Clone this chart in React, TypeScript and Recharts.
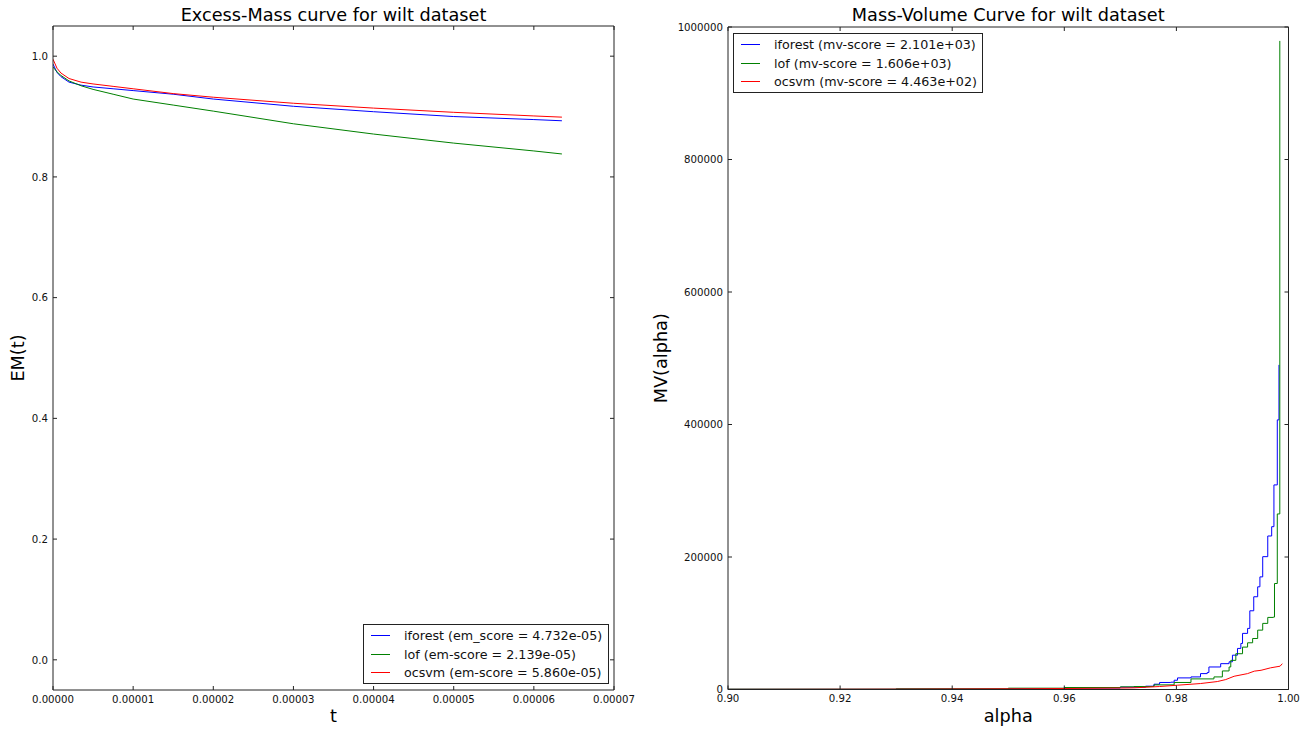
import { LineChart, Line, XAxis, YAxis, Legend, Label } from "recharts";

// Excess-Mass curves (left panel)
const emT = [0, 0.05e-5, 0.1e-5, 0.2e-5, 0.35e-5, 0.5e-5, 0.75e-5, 1e-5, 1.5e-5, 2e-5, 3e-5, 4e-5, 5e-5, 6e-5, 6.35e-5];
const emIforest = [0.987, 0.973, 0.966, 0.957, 0.952, 0.949, 0.946, 0.943, 0.937, 0.929, 0.917, 0.908, 0.9, 0.895, 0.893];
const emLof = [0.982, 0.974, 0.968, 0.959, 0.951, 0.945, 0.937, 0.929, 0.919, 0.909, 0.888, 0.871, 0.856, 0.843, 0.838];
const emOcsvm = [0.995, 0.98, 0.972, 0.963, 0.957, 0.954, 0.95, 0.946, 0.938, 0.932, 0.922, 0.914, 0.907, 0.901, 0.899];
const emTicksX = [0, 0.00001, 0.00002, 0.00003, 0.00004, 0.00005, 0.00006, 0.00007];
const emTicksY = [0, 0.2, 0.4, 0.6, 0.8, 1.0];
const emNames = ["iforest (em_score = 4.732e-05)", "lof (em-score = 2.139e-05)", "ocsvm (em-score = 5.860e-05)"];

// Mass-Volume curves (right panel)
const mvIforestAlpha = [0.9, 0.93, 0.95, 0.96, 0.97, 0.9745, 0.976, 0.977, 0.979, 0.9796, 0.9802, 0.9826, 0.9843, 0.9855, 0.9858, 0.9879, 0.9894, 0.99, 0.9909, 0.9915, 0.9918, 0.9927, 0.9931, 0.9938, 0.9945, 0.9949, 0.9954, 0.9963, 0.997, 0.9974, 0.998, 0.9983];
const mvIforest = [300, 800, 1500, 2300, 3500, 5000, 8000, 10600, 11000, 14000, 17500, 19000, 24000, 25700, 34000, 39000, 41800, 51800, 62000, 69500, 84700, 92200, 118800, 140000, 155000, 170000, 200500, 231700, 245800, 308800, 407000, 490000];
const mvLofAlpha = [0.9, 0.93, 0.95, 0.96, 0.97, 0.9724, 0.976, 0.9796, 0.9826, 0.9867, 0.9882, 0.9894, 0.9897, 0.9906, 0.9918, 0.9927, 0.9936, 0.9945, 0.9954, 0.9963, 0.9973, 0.9975, 0.998, 0.99845];
const mvLof = [500, 1000, 2000, 3000, 4000, 4500, 7000, 10600, 16000, 19000, 28000, 34000, 44000, 54000, 64000, 70500, 77000, 89600, 99800, 108800, 109300, 160000, 265000, 979000];
const mvOcsvmAlpha = [0.9, 0.93, 0.95, 0.96, 0.97, 0.9724, 0.977, 0.9802, 0.9843, 0.9873, 0.9888, 0.9903, 0.9927, 0.9939, 0.9951, 0.9968, 0.9985, 0.9989];
const mvOcsvm = [200, 500, 1000, 1500, 2200, 2500, 4500, 6500, 9000, 12000, 15000, 20000, 24000, 27700, 29000, 32700, 35200, 39000];
const mvTicksX = [0.9, 0.92, 0.94, 0.96, 0.98, 1.0];
const mvTicksY = [0, 200000, 400000, 600000, 800000, 1000000];
const mvNames = ["iforest (mv-score = 2.101e+03)", "lof (mv-score = 1.606e+03)", "ocsvm (mv-score = 4.463e+02)"];

const FONT = "DejaVu Sans, sans-serif";
const FRAME = "#222";
// matplotlib classic 'b', 'g', 'r'
const COLORS = ["#0000ff", "#008000", "#ff0000"];

const colorOf: Record<string, string> = {};
[emNames, mvNames].forEach((names) => names.forEach((n, i) => (colorOf[n] = COLORS[i])));

const pairs = (xs: number[], ys: number[]) => xs.map((x, i) => ({ x, y: ys[i] }));

const emData = [pairs(emT, emIforest), pairs(emT, emLof), pairs(emT, emOcsvm)];
const mvData = [pairs(mvIforestAlpha, mvIforest), pairs(mvLofAlpha, mvLof), pairs(mvOcsvmAlpha, mvOcsvm)];

// matplotlib classic style ticks: pointing inward, labels only bottom/left
const bottomTick = (fmt: (v: number) => string) => (props: any) => {
  const { x, y, payload } = props;
  return (
    <g>
      <line x1={x} x2={x} y1={y} y2={y - 4} stroke={FRAME} />
      <text x={x} y={y + 12.5} textAnchor="middle" fontSize={10.2} fontFamily={FONT} fill="#111">
        {fmt(payload.value)}
      </text>
    </g>
  );
};
const leftTick = (fmt: (v: number) => string) => (props: any) => {
  const { x, y, payload } = props;
  return (
    <g>
      <line x1={x} x2={x + 4} y1={y} y2={y} stroke={FRAME} />
      <text x={x - 5} y={y + 3.7} textAnchor="end" fontSize={10.2} fontFamily={FONT} fill="#111">
        {fmt(payload.value)}
      </text>
    </g>
  );
};
// top axis box is 1px tall, right axis box 1px wide: props point at the frame edge
const topTick = (props: any) => (
  <line x1={props.x} x2={props.x} y1={props.y} y2={props.y + 4} stroke={FRAME} />
);
const rightTick = (props: any) => (
  <line x1={props.x} x2={props.x - 4} y1={props.y} y2={props.y} stroke={FRAME} />
);

const legendBox = (props: any) => {
  const items = (props.payload || []).filter((it: any) => it.type !== "none" && it.value);
  return (
    <div
      style={{
        border: `1px solid ${FRAME}`,
        background: "#fff",
        padding: "1px 0",
        boxSizing: "border-box",
        width: "100%",
        fontFamily: FONT,
        fontSize: 12.7,
        color: "#111",
      }}
    >
      {items.map((it: any) => (
        <div key={it.value} style={{ display: "flex", alignItems: "center", height: 18.7, whiteSpace: "nowrap" }}>
          <svg width={19} height={3} style={{ marginLeft: 7, marginRight: 14 }}>
            <line x1={0} x2={19} y1={1.5} y2={1.5} stroke={colorOf[it.value] || it.color} strokeWidth={1} />
          </svg>
          <span>{it.value}</span>
        </div>
      ))}
    </div>
  );
};

const labelStyle = { fontSize: 17.7, fontFamily: FONT, fill: "#000" };

function EmChart() {
  return (
    <LineChart width={656} height={732} margin={{ top: 25, right: 41, bottom: 0, left: 0 }}>
      <XAxis
        dataKey="x"
        type="number"
        domain={[0, 0.00007]}
        ticks={emTicksX}
        allowDataOverflow
        interval={0}
        height={42}
        tickSize={0}
        tickMargin={0}
        tickLine={false}
        axisLine={{ stroke: FRAME }}
        tick={bottomTick((v) => v.toFixed(5))}
      >
        <Label value="t" position="insideBottom" offset={10} style={labelStyle} />
      </XAxis>
      <XAxis
        xAxisId="top"
        orientation="top"
        dataKey="x"
        type="number"
        domain={[0, 0.00007]}
        ticks={emTicksX}
        allowDataOverflow
        interval={0}
        height={1}
        tickSize={0}
        tickMargin={0}
        tickLine={false}
        axisLine={{ stroke: FRAME }}
        tick={topTick}
      >
        <Label value="Excess-Mass curve for wilt dataset" position="top" offset={4} style={labelStyle} />
      </XAxis>
      <YAxis
        type="number"
        domain={[-0.05, 1.05]}
        ticks={emTicksY}
        allowDataOverflow
        interval={0}
        width={53}
        tickSize={0}
        tickMargin={0}
        tickLine={false}
        axisLine={{ stroke: FRAME }}
        tick={leftTick((v) => v.toFixed(1))}
      >
        <Label value="EM(t)" angle={-90} position="insideLeft" offset={18} style={{ ...labelStyle, textAnchor: "middle" }} />
      </YAxis>
      <YAxis
        yAxisId="right"
        orientation="right"
        type="number"
        domain={[-0.05, 1.05]}
        ticks={emTicksY}
        allowDataOverflow
        interval={0}
        width={1}
        tickSize={0}
        tickMargin={0}
        tickLine={false}
        axisLine={{ stroke: FRAME }}
        tick={rightTick}
      />
      {emData.map((d, i) => (
        <Line
          key={emNames[i]}
          data={d}
          dataKey="y"
          name={emNames[i]}
          stroke={COLORS[i]}
          strokeWidth={1}
          dot={false}
          activeDot={false}
          isAnimationActive={false}
        />
      ))}
      <Legend
        layout="horizontal"
        verticalAlign="middle"
        align="center"
        content={legendBox}
        wrapperStyle={{ left: 363, top: 624, width: 246, height: 60 }}
      />
    </LineChart>
  );
}

function MvChart() {
  return (
    <LineChart width={686} height={732} margin={{ top: 26, right: 22.5, bottom: 0, left: 0 }}>
      <XAxis
        dataKey="x"
        type="number"
        domain={[0.9, 1.0]}
        ticks={mvTicksX}
        allowDataOverflow
        interval={0}
        height={42.5}
        tickSize={0}
        tickMargin={0}
        tickLine={false}
        axisLine={{ stroke: FRAME }}
        tick={bottomTick((v) => v.toFixed(2))}
      >
        <Label value="alpha" position="insideBottom" offset={10.5} style={labelStyle} />
      </XAxis>
      <XAxis
        xAxisId="top"
        orientation="top"
        dataKey="x"
        type="number"
        domain={[0.9, 1.0]}
        ticks={mvTicksX}
        allowDataOverflow
        interval={0}
        height={1}
        tickSize={0}
        tickMargin={0}
        tickLine={false}
        axisLine={{ stroke: FRAME }}
        tick={topTick}
      >
        <Label value="Mass-Volume Curve for wilt dataset" position="top" offset={5} style={labelStyle} />
      </XAxis>
      <YAxis
        type="number"
        domain={[0, 1000000]}
        ticks={mvTicksY}
        allowDataOverflow
        interval={0}
        width={102}
        tickSize={0}
        tickMargin={0}
        tickLine={false}
        axisLine={{ stroke: FRAME }}
        tick={leftTick((v) => String(v))}
      >
        <Label value="MV(alpha)" angle={-90} position="insideLeft" offset={35} style={{ ...labelStyle, textAnchor: "middle" }} />
      </YAxis>
      <YAxis
        yAxisId="right"
        orientation="right"
        type="number"
        domain={[0, 1000000]}
        ticks={mvTicksY}
        allowDataOverflow
        interval={0}
        width={1}
        tickSize={0}
        tickMargin={0}
        tickLine={false}
        axisLine={{ stroke: FRAME }}
        tick={rightTick}
      />
      {mvData.map((d, i) => (
        <Line
          key={mvNames[i]}
          data={d}
          dataKey="y"
          type={i < 2 ? "stepAfter" : "linear"}
          name={mvNames[i]}
          stroke={COLORS[i]}
          strokeWidth={1}
          dot={false}
          activeDot={false}
          isAnimationActive={false}
        />
      ))}
      <Legend
        layout="horizontal"
        verticalAlign="middle"
        align="center"
        content={legendBox}
        wrapperStyle={{ left: 107, top: 33, width: 250, height: 60 }}
      />
    </LineChart>
  );
}

export default function App() {
  return (
    <div style={{ position: "absolute", left: 0, top: 0, width: 1312, height: 732, background: "#fff", fontFamily: FONT }}>
      <div style={{ position: "absolute", left: 0, top: 0 }}>
        <EmChart />
      </div>
      <div style={{ position: "absolute", left: 626, top: 0 }}>
        <MvChart />
      </div>
    </div>
  );
}
